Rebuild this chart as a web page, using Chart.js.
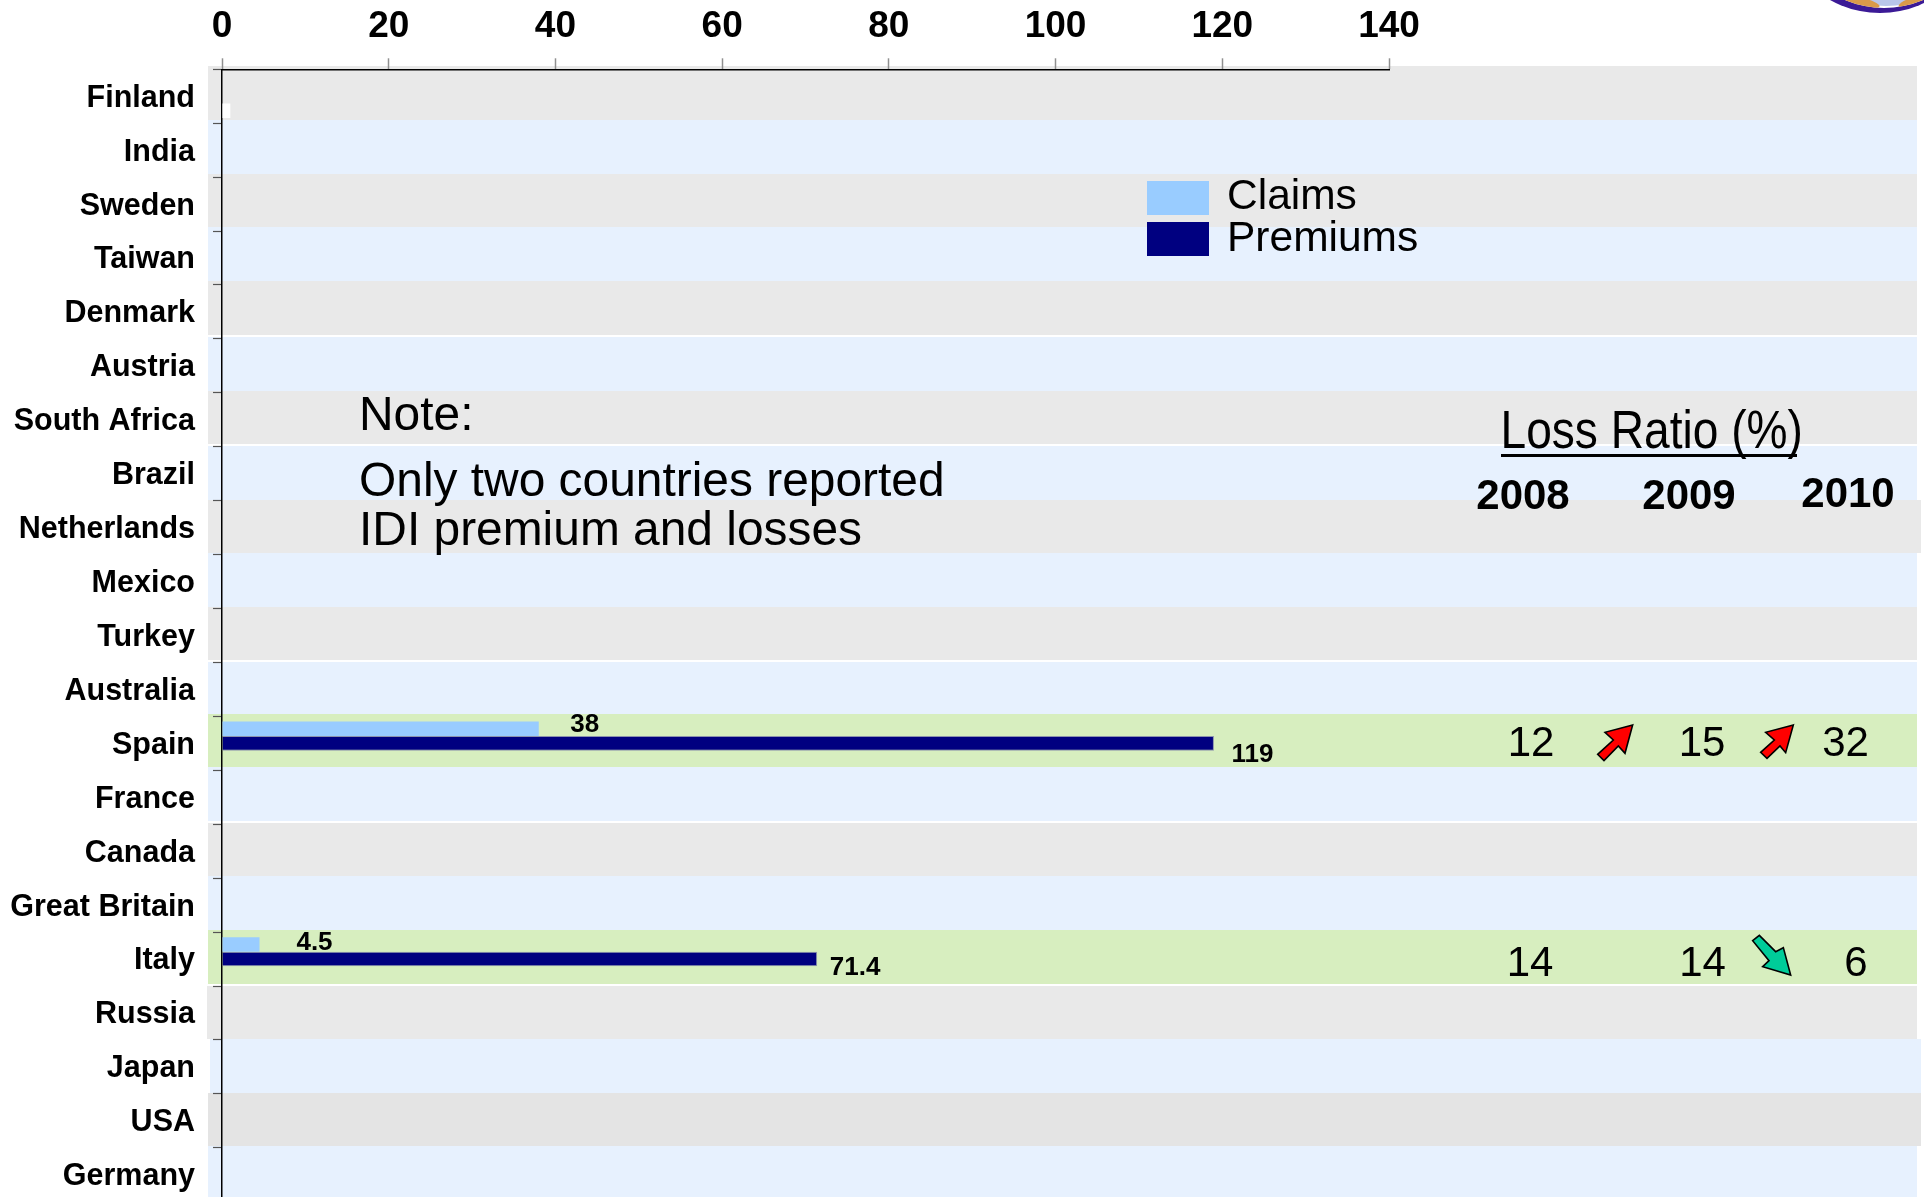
<!DOCTYPE html>
<html><head><meta charset="utf-8">
<style>html,body{margin:0;padding:0;background:#fff;width:1924px;height:1197px;overflow:hidden}canvas{display:block}</style>
<script src="https://cdn.jsdelivr.net/npm/chart.js@4/dist/chart.umd.min.js"></script>
</head><body><canvas id="c" width="1924" height="1238"></canvas>
<script>
const categories = ["Finland","India","Sweden","Taiwan","Denmark","Austria","South Africa","Brazil","Netherlands","Mexico","Turkey","Australia","Spain","France","Canada","Great Britain","Italy","Russia","Japan","USA","Germany"];
const claims   = [null,null,null,null,null,null,null,null,null,null,null,null,38,null,null,null,4.5,null,null,null,null];
const premiums = [null,null,null,null,null,null,null,null,null,null,null,null,119,null,null,null,71.4,null,null,null,null];
const other    = [1,null,null,null,null,null,null,null,null,null,null,null,null,null,null,null,null,null,null,null,null];
const xTicks = [0,20,40,60,80,100,120,140];
const lossYears = ["2008","2009","2010"];
const lossSpain = [12,15,32];
const lossItaly = [14,14,6];
const noteLines = ["Note:","Only two countries reported","IDI premium and losses"];
const lossTitle = "Loss Ratio (%)";

const FF = '"Liberation Sans", Arial, sans-serif';
const GREY='#e9e9e9', BLUE='#e7f1fe', GREEN='#d7eebf';

const decor = {
  id:'decor',
  beforeDraw(chart){
    const ctx=chart.ctx;
    ctx.save();
    // background stripes belonging to the slide behind the chart
    const stripeEdges=[66,120,174,227,281,336,391,445,500,553,607,661,714,767,822,876,930,985,1039,1093,1146,1200];
    const gapAt=[5,7,11,14,17];
    categories.forEach((c,i)=>{
      const top=stripeEdges[i]+(gapAt.includes(i)?1:0);
      const bottom=stripeEdges[i+1]-(gapAt.includes(i+1)?1:0);
      let fill = (i<17 ? i%2 : !(i%2)) ? BLUE:GREY;
      if(c==='Spain'||c==='Italy') fill=GREEN;
      if(c==='USA') fill='#e4e4e4';
      const left = c==='Japan'?210:(c==='Russia'?207:208);
      const right = (c==='Netherlands'||c==='USA'||c==='Japan')?1921:1917;
      ctx.fillStyle=fill;
      ctx.fillRect(left,top,right-left,bottom-top);
    });
    ctx.save();
    ctx.beginPath();ctx.arc(1880,-89.6,102.6,0,Math.PI*2);ctx.fillStyle='#3b1a96';ctx.fill();
    ctx.beginPath();ctx.arc(1884,-91,99,0,Math.PI*2);ctx.clip();
    ctx.fillStyle='#ffffff';ctx.fillRect(1820,-10,110,30);
    ctx.beginPath();ctx.arc(1886,-94,100,0,Math.PI*2);ctx.fillStyle='#b9c6ea';ctx.fill();
    ctx.fillStyle='#d99a4a';
    ctx.beginPath();ctx.ellipse(1858,2,22,5,0.2,0,Math.PI*2);ctx.fill();
    ctx.beginPath();ctx.ellipse(1912,2,14,4,-0.3,0,Math.PI*2);ctx.fill();
    ctx.restore();
    ctx.restore();
  },
  afterDraw(chart){
    const ctx=chart.ctx, y=chart.scales.y;
    const rowY=name=>y.getPixelForValue(categories.indexOf(name));
    ctx.save();
    ctx.fillStyle='#000';ctx.textBaseline='alphabetic';

    const off={'0:12':[46,-3.5],'1:12':[38.5,11],'0:16':[55,-2],'1:16':[38,9]};
    ctx.font='bold 26px '+FF;ctx.textAlign='center';ctx.textBaseline='middle';
    [[0,claims],[1,premiums]].forEach(([d,arr])=>{
      arr.forEach((v,i)=>{
        if(v==null)return;
        const el=chart.getDatasetMeta(d).data[i], o=off[d+':'+i];
        ctx.fillText(String(v),el.x+o[0],el.y+o[1]);
      });
    });
    ctx.textBaseline='alphabetic';

    [0,1].forEach((d,n)=>{
      const ds=chart.data.datasets[d];
      ctx.fillStyle=ds.backgroundColor;
      ctx.fillRect(1147,181+n*41,62,34);
      ctx.fillStyle='#000';ctx.textAlign='left';ctx.font='42.5px '+FF;
      ctx.fillText(ds.label,1227,[209,251][n]);
    });

    ctx.font='47.9px '+FF;ctx.textAlign='left';
    ctx.fillText(noteLines[0],359,430);
    ctx.fillText(noteLines[1],359,496);
    ctx.fillText(noteLines[2],359,545);

    ctx.save();
    ctx.translate(1500.5,448);ctx.scale(0.87,1);
    ctx.font='53px '+FF;ctx.fillText(lossTitle,0,0);
    ctx.restore();
    ctx.fillRect(1501,454,296,3);

    ctx.font='bold 42px '+FF;ctx.textAlign='center';
    ctx.fillText(lossYears[0],1523,509);
    ctx.fillText(lossYears[1],1689,509);
    ctx.fillText(lossYears[2],1848,507);

    ctx.font='42px '+FF;
    const valX=[[1531,1702,1845.5],[1530,1702.5,1856]];
    lossSpain.forEach((v,i)=>ctx.fillText(String(v),valX[0][i],rowY('Spain')+13));
    lossItaly.forEach((v,i)=>ctx.fillText(String(v),valX[1][i],rowY('Italy')+17));

    const arrow=(pts,fill)=>{
      ctx.beginPath();pts.forEach((p,i)=>{const X=1440+p[0]/3,Y=p[2]+p[1]/3;i?ctx.lineTo(X,Y):ctx.moveTo(X,Y)});
      ctx.closePath();ctx.fillStyle=fill;ctx.fill();ctx.lineWidth=1.6;ctx.strokeStyle='#000';ctx.lineJoin='miter';ctx.stroke();
    };
    arrow([[578,105,690],[495,127,690],[520,150,690],[473,193,690],[492,212,690],[535,168,690],[555,190,690]],'#ff0000');
    arrow([[1060,105,690],[977,127,690],[1003,150,690],[962,187,690],[981,205,690],[1020,168,690],[1037,188,690]],'#ff0000');
    arrow([[938,92,910],[958,76,910],[1007,125,910],[1030,113,910],[1052,195,910],[968,170,910],[987,152,910]],'#00cc99');
    ctx.restore();
  }
};

new Chart(document.getElementById('c'),{
  type:'bar',
  data:{labels:categories,datasets:[
    {label:'Claims',data:claims,backgroundColor:'#99ccff',borderWidth:0},
    {label:'Premiums',data:premiums,backgroundColor:'#000080',borderColor:'#8c93ad',borderWidth:1},
    {label:'Other',data:other,backgroundColor:'#ffffff',borderWidth:0}
  ]},
  options:{
    indexAxis:'y',responsive:false,animation:false,
    layout:{padding:{left:0,top:0,bottom:0,right:535}},
    datasets:{bar:{barPercentage:1,categoryPercentage:0.81}},
    plugins:{legend:{display:false},tooltip:{enabled:false},title:{display:false}},
    scales:{
      x:{position:'top',min:0,max:140,
        afterBuildTicks(s){s.ticks=xTicks.map(v=>({value:v}));},
        afterFit(s){s.height=69.3;},
        border:{color:'#000',width:1.5},
        grid:{drawOnChartArea:false,color:'#909090',tickLength:11,tickWidth:1.5},
        ticks:{color:'#000',font:{family:FF,size:37,weight:'bold'},padding:9,maxRotation:0,autoSkip:false}},
      y:{position:'left',
        afterFit(s){s.width=222;},
        border:{color:'#000',width:1.5},
        grid:{drawOnChartArea:false,color:'#555',tickLength:9,tickWidth:1.2,offset:true},
        ticks:{color:'#000',font:{family:FF,size:30.5,weight:'bold'},padding:18,labelOffset:2,autoSkip:false}}
    }
  },
  plugins:[decor]
});
</script></body></html>
